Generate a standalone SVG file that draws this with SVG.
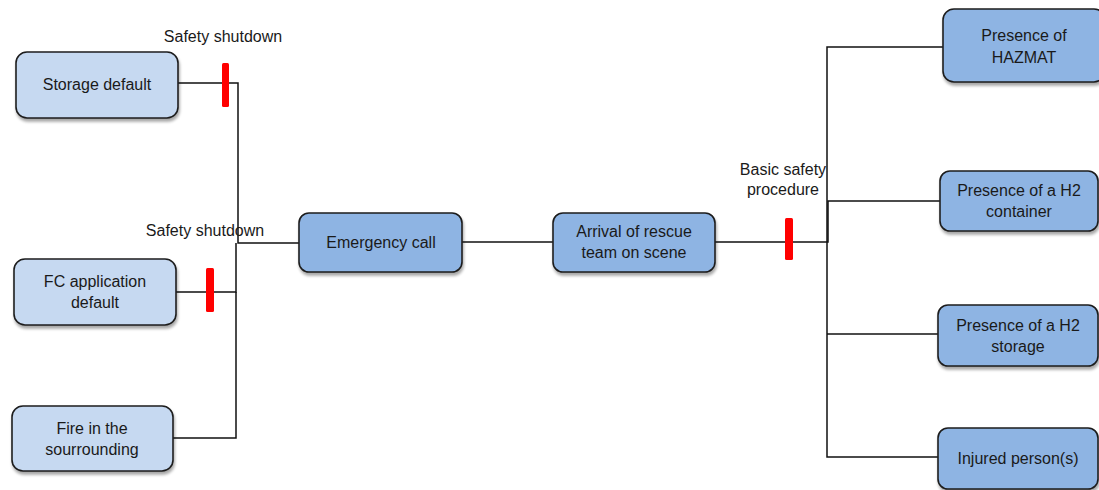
<svg xmlns="http://www.w3.org/2000/svg" width="1099" height="490" viewBox="0 0 1099 490">
  <defs>
    <filter id="shadow" x="-10%" y="-10%" width="125%" height="135%">
      <feGaussianBlur in="SourceAlpha" stdDeviation="1.5"/>
      <feOffset dx="1" dy="3" result="b"/>
      <feComponentTransfer><feFuncA type="linear" slope="0.35"/></feComponentTransfer>
      <feMerge><feMergeNode/><feMergeNode in="SourceGraphic"/></feMerge>
    </filter>
  </defs>
  <style>
    .box { stroke: #1e1e1e; stroke-width: 1.6; filter: url(#shadow); }
    .light { fill: #c6d9f1; }
    .mid { fill: #8eb4e3; }
    .wire { fill: none; stroke: #111; stroke-width: 1.5; }
    .barrier { fill: #ff0000; }
    text { font-family: "Liberation Sans", Arial, sans-serif; font-size: 16px; fill: #1a1a1a; text-anchor: middle; }
  </style>
  <rect width="1099" height="490" fill="#ffffff"/>

  <!-- connectors -->
  <g id="connectors">
    <polyline class="wire" points="178,83 238,83 238,243 299,243"/>
    <polyline class="wire" points="176,292 236,292 236,243"/>
    <polyline class="wire" points="173,438 236,438 236,292"/>
    <line class="wire" x1="462" y1="242" x2="553" y2="242"/>
    <polyline class="wire" points="715,242 828,242 828,201 940,201"/>
    <polyline class="wire" points="943,47 827,47 827,457 938,457"/>
    <line class="wire" x1="827" y1="334" x2="938" y2="334"/>
  </g>

  <!-- safety barriers -->
  <g id="barriers">
    <rect class="barrier" x="222" y="63" width="7" height="44" rx="1.5"/>
    <rect class="barrier" x="206" y="268" width="8" height="44" rx="1.5"/>
    <rect class="barrier" x="785" y="218" width="8" height="42" rx="1.5"/>
    <text x="223" y="42">Safety shutdown</text>
    <text x="205" y="236">Safety shutdown</text>
    <text x="783" y="175">Basic safety</text>
    <text x="783" y="195">procedure</text>
  </g>

  <g id="storage-default">
    <rect class="box light" x="16" y="52" width="162" height="66" rx="11"/>
    <text x="97" y="90">Storage default</text>
  </g>
  <g id="fc-application-default">
    <rect class="box light" x="14" y="259" width="162" height="66" rx="11"/>
    <text x="95" y="287">FC application</text>
    <text x="95" y="308">default</text>
  </g>
  <g id="fire-surrounding">
    <rect class="box light" x="12" y="406" width="161" height="65" rx="11"/>
    <text x="92" y="434">Fire in the</text>
    <text x="92" y="455">sourrounding</text>
  </g>
  <g id="emergency-call">
    <rect class="box mid" x="299" y="213" width="163" height="59" rx="10"/>
    <text x="381" y="248">Emergency call</text>
  </g>
  <g id="arrival-rescue">
    <rect class="box mid" x="553" y="213" width="162" height="59" rx="10"/>
    <text x="634" y="237">Arrival of rescue</text>
    <text x="634" y="258">team on scene</text>
  </g>
  <g id="presence-hazmat">
    <rect class="box mid" x="943" y="9" width="162" height="73" rx="11"/>
    <text x="1024" y="41">Presence of</text>
    <text x="1024" y="63">HAZMAT</text>
  </g>
  <g id="presence-h2-container">
    <rect class="box mid" x="940" y="171" width="158" height="60" rx="10"/>
    <text x="1019" y="196">Presence of a H2</text>
    <text x="1019" y="217">container</text>
  </g>
  <g id="presence-h2-storage">
    <rect class="box mid" x="938" y="305" width="160" height="61" rx="10"/>
    <text x="1018" y="331">Presence of a H2</text>
    <text x="1018" y="352">storage</text>
  </g>
  <g id="injured-persons">
    <rect class="box mid" x="938" y="428" width="160" height="61" rx="10"/>
    <text x="1018" y="464">Injured person(s)</text>
  </g>
</svg>
